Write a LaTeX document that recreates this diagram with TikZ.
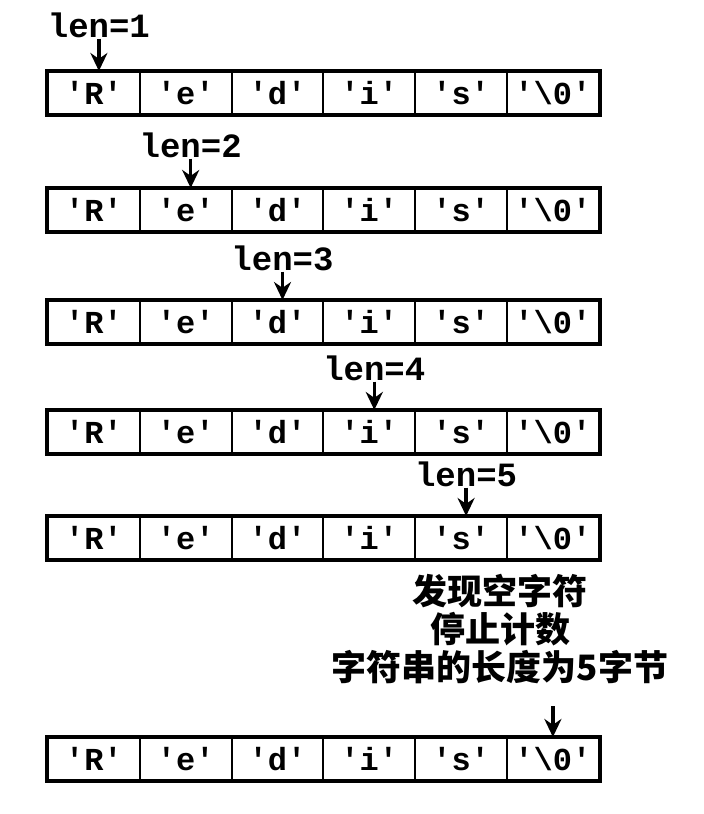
\documentclass[tikz,border=0pt]{standalone}
\usepackage{fontspec}
\setmonofont{Liberation Mono}
\newfontfamily\cjk{Noto Sans CJK SC}
\usepackage{tikz}
\usetikzlibrary{arrows.meta, positioning}
\tikzset{
  cell/.style={draw, line width=2pt, minimum width=91.8pt, minimum height=42pt, inner sep=0pt,
    font=\ttfamily\bfseries\fontsize{32}{32}\selectfont},
  outer/.style={line width=4pt},
  lbl/.style={anchor=base, inner sep=1pt, font=\ttfamily\bfseries\fontsize{34}{34}\selectfont},
  arr/.style={line width=3.5pt, -{Stealth[length=18pt, width=17pt]}}
}

\begin{document}
\begin{tikzpicture}[x=1pt, y=-1pt]
        \useasboundingbox (0,0) rectangle (704,814);

        % Arrays
        \foreach \r/\y in {1/72, 2/189, 3/301, 4/411, 5/517, 6/738} {
          \foreach \c/\t in {1/'R', 2/'e', 3/'d', 4/'i', 5/'s', 6/'\textbackslash0'}
            \node[cell] (r\r c\c) at ({48+91.8*(\c-0.5)}, {\y+21}) {\t};
          \draw[outer] (r\r c1.north west) rectangle (r\r c6.south east);
        }

        % Length labels
        \foreach \k/\y in {1/37, 2/157, 3/270, 4/380, 5/486}
          \node[lbl] (len\k) at ({48+91.8*(\k-0.5)+5}, \y) {len=\k};

        % Message
        \node[align=center, inner sep=0pt, font=\cjk\bfseries\fontsize{35}{38}\selectfont] (msg) at (500, 629)
          {发现空字符\\停止计数\\字符串的长度为5字节};

        % Arrows
        \foreach \k in {1,...,5}
          \draw[arr] (len\k.south) -- (len\k.south |- r\k c\k.north);
        \draw[arr] ([yshift=-22pt]msg.south -| r6c6.north) -- (r6c6.north);
    \end{tikzpicture}
\end{document}
